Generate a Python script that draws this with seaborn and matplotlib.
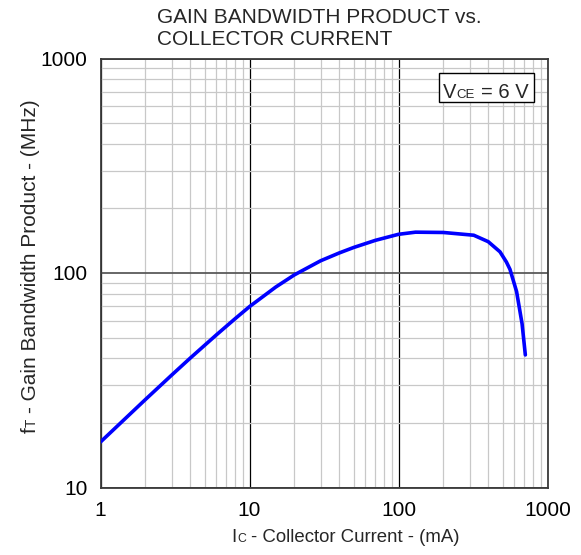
import numpy as np
import pandas as pd
import matplotlib
matplotlib.use("Agg")
import matplotlib.pyplot as plt
import seaborn as sns
from matplotlib.patches import Rectangle
from matplotlib.ticker import FixedLocator, FixedFormatter, LogLocator, NullFormatter

# ---- data ----
collector_current_ma = [1, 2, 3, 4, 6, 8, 10, 15, 20, 30, 40, 50, 70, 100, 130, 200,
                        320, 400, 480, 530, 560, 620, 675, 710]
gain_bandwidth_mhz = [16.3, 25.7, 33.4, 40.1, 51.5, 61.2, 69.7, 86, 98, 114, 124, 131.5,
                      142, 151.5, 155, 154.5, 150, 140, 125.5, 112.5, 104, 82, 58, 41.5]
x_ticks = [1, 10, 100, 1000]
x_tick_labels = ["1", "10", "100", "1000"]
y_ticks = [10, 100, 1000]
y_tick_labels = ["10", "100", "1000"]
title_lines = ["GAIN BANDWIDTH PRODUCT vs.", "COLLECTOR CURRENT"]
condition_parts = ["V", "CE", "= 6 V"]
xlabel_parts = ["I", "C", "- Collector Current - (mA)"]
ylabel_parts = ["f", "T", "- Gain Bandwidth Product - (MHz)"]

sns.set_style("white")
plt.rcParams['font.family'] = ['Liberation Sans', 'DejaVu Sans']

W, H = 581, 555
TITLE, TICK, XLAB, YLAB, COND = 15, 15, 13.4, 15, 14.5
fig = plt.figure(figsize=(W / 100, H / 100), dpi=100)
ax = fig.add_axes([100.5 / W, (H - 487.5) / H, 447 / W, 429 / H])
ax.set_xscale('log')
ax.set_yscale('log')

df = pd.DataFrame({"Ic": collector_current_ma, "fT": gain_bandwidth_mhz})
sns.lineplot(data=df, x="Ic", y="fT", ax=ax, color="#0000ff", linewidth=2.6,
             estimator=None, sort=False, zorder=4)

ax.set_xlim(1, 1000)
ax.set_ylim(10, 1000)
ax.set_xlabel("")
ax.set_ylabel("")

ax.xaxis.set_major_locator(FixedLocator(x_ticks))
ax.xaxis.set_major_formatter(FixedFormatter(x_tick_labels))
ax.yaxis.set_major_locator(FixedLocator(y_ticks))
ax.yaxis.set_major_formatter(FixedFormatter(y_tick_labels))
for axis in (ax.xaxis, ax.yaxis):
    axis.set_minor_locator(LogLocator(base=10, subs=range(2, 10)))
    axis.set_minor_formatter(NullFormatter())
ax.tick_params(which='both', length=0, labelsize=TICK, colors='black')
ax.tick_params(axis='x', pad=10)
ax.tick_params(axis='y', pad=9.5)

ax.grid(False)
ax.xaxis.grid(True, which='minor', color='#c8c8c8', lw=0.9)
ax.yaxis.grid(True, which='minor', color='#c8c8c8', lw=0.9)
ax.xaxis.grid(True, which='major', color='black', lw=0.9)
ax.yaxis.grid(True, which='major', color='#5a5a5a', lw=1.3)
ax.set_axisbelow(True)
for sp in ax.spines.values():
    sp.set_visible(True)
    sp.set_color('#3a3a3a')
    sp.set_linewidth(1.3)

# title
fig.text(157 / W, 1 - 23 / H, title_lines[0], fontsize=TITLE, ha='left', va='baseline')
fig.text(157 / W, 1 - 45 / H, title_lines[1], fontsize=TITLE, ha='left', va='baseline')


def chain_h(parts, sizes, gaps, x_px, y_px, z=6):
    prev = ax.annotate(parts[0], xy=(x_px, y_px), xycoords='figure pixels',
                       fontsize=sizes[0], ha='left', va='baseline',
                       annotation_clip=False, zorder=z)
    for t, s, g in zip(parts[1:], sizes[1:], gaps):
        prev = ax.annotate(t, xy=(1, y_px), xycoords=(prev, 'figure pixels'),
                           xytext=(g, 0), textcoords='offset points',
                           fontsize=s, ha='left', va='baseline',
                           annotation_clip=False, zorder=z)


def chain_v(parts, sizes, gaps, x_px, y_px, z=6):
    prev = ax.annotate(parts[0], xy=(x_px, y_px), xycoords='figure pixels',
                       fontsize=sizes[0], ha='left', va='baseline', rotation=90,
                       rotation_mode='anchor', annotation_clip=False, zorder=z)
    for t, s, g in zip(parts[1:], sizes[1:], gaps):
        prev = ax.annotate(t, xy=(x_px, 1), xycoords=('figure pixels', prev),
                           xytext=(0, g), textcoords='offset points',
                           fontsize=s, ha='left', va='baseline', rotation=90,
                           rotation_mode='anchor', annotation_clip=False, zorder=z)


# condition box
ax.add_patch(Rectangle((439.3 / W, (H - 101.7) / H), 95 / W, 28.4 / H,
                       transform=fig.transFigure, facecolor='white',
                       edgecolor='black', lw=1.0, clip_on=False, zorder=5))
chain_h(condition_parts, [COND, COND * 0.66, COND], [0.5, 4], 442.7, H - 97.7)

# axis labels
chain_h(xlabel_parts, [XLAB, XLAB * 0.66, XLAB], [0.5, 3.5], 231, H - 542)
chain_v(ylabel_parts, [YLAB, YLAB * 0.66, YLAB], [0.5, 4], 36, H - 433)

fig.savefig("out.png", dpi=100)
